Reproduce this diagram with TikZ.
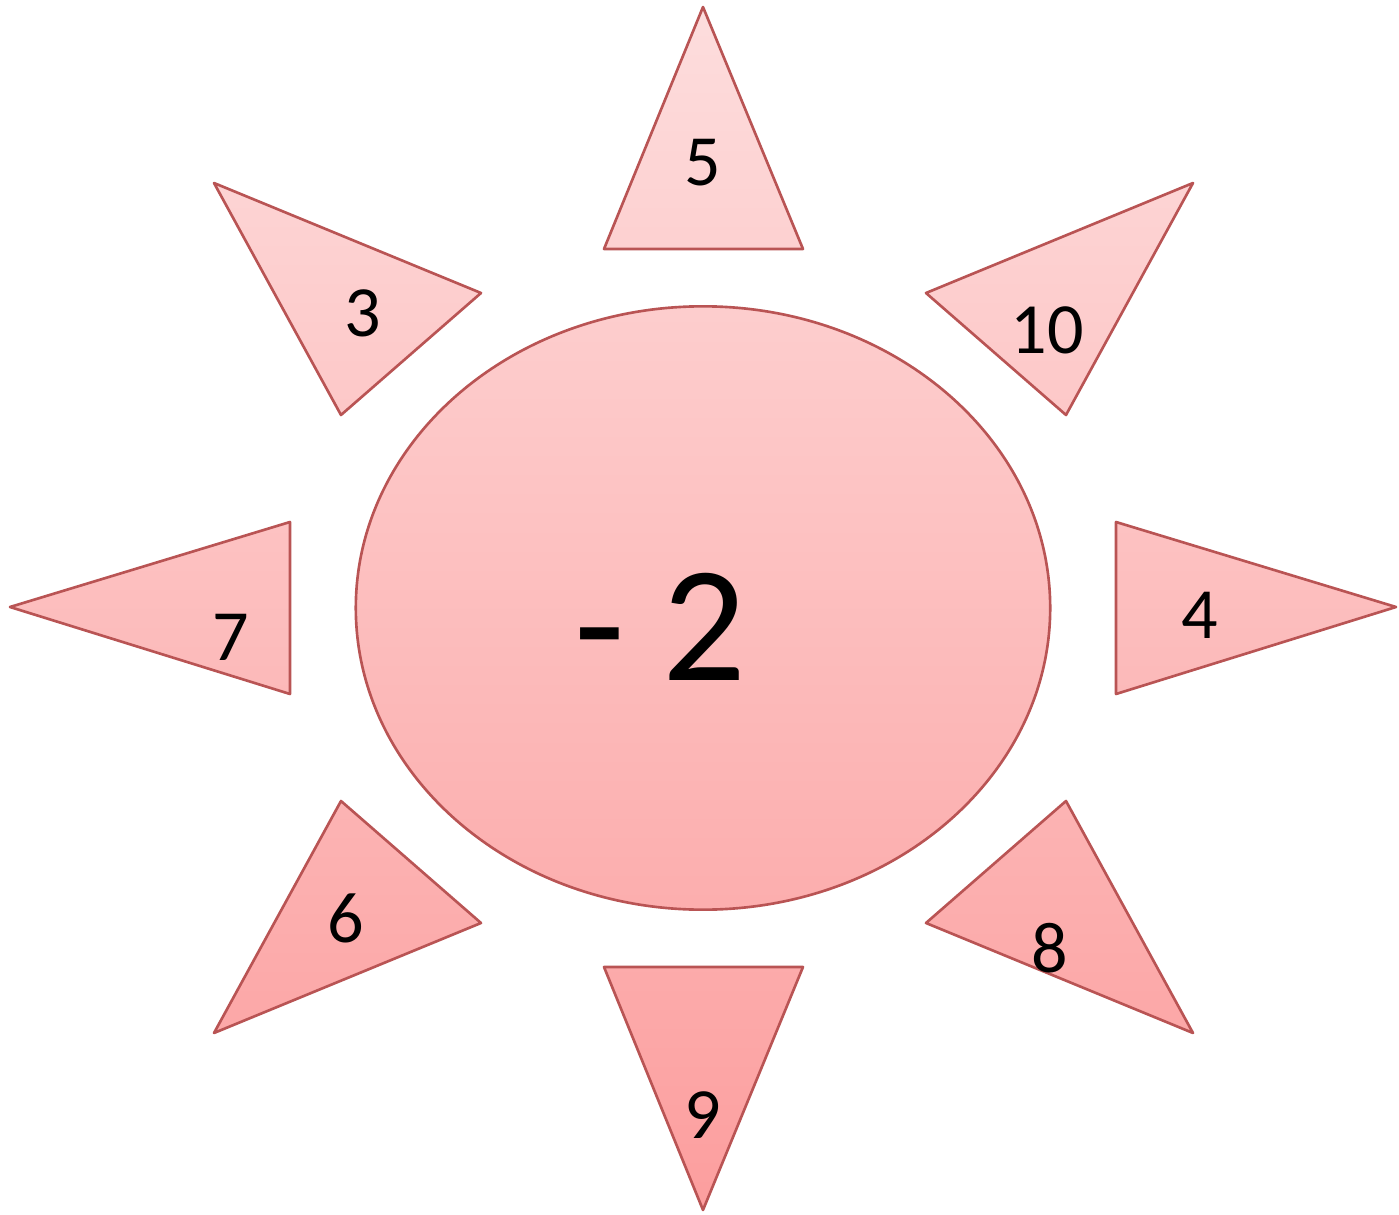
\documentclass[tikz,border=0pt]{standalone}
\usepackage{fontspec}
\setmainfont{Carlito}
\definecolor{topc}{HTML}{FDDDDD}
\definecolor{botc}{HTML}{FC9E9E}
\definecolor{edge}{HTML}{B95454}
\begin{document}
\begin{tikzpicture}[x=0.01cm,y=-0.01cm,
  lbl/.style={font=\fontsize{20.5}{24}\selectfont, inner sep=0pt, text=black},
  big/.style={font=\fontsize{47}{54}\selectfont, inner sep=0pt, text=black},
  edgeline/.style={draw=edge, line width=0.75pt, line join=round}]
\useasboundingbox (0,0) rectangle (1399,1215);
\def\sunshapes{
  (703,608) ellipse [x radius=3.47cm, y radius=3.015cm]
  (703,7) -- (803,249) -- (604,249) -- cycle
  (604,967) -- (803,967) -- (703,1210) -- cycle
  (10,607) -- (290,522) -- (290,694) -- cycle
  (1396,607) -- (1116,694) -- (1116,522) -- cycle
  (214,183) -- (481,293) -- (341,415) -- cycle
  (1193,183) -- (1066,415) -- (926,293) -- cycle
  (341,801) -- (481,923) -- (214,1033) -- cycle
  (1066,801) -- (1193,1033) -- (926,923) -- cycle
}
\shade[top color=topc, bottom color=botc] \sunshapes;
\path[edgeline] \sunshapes;
\node[big] (c) at (660,627) {- 2};
\node[lbl] (t5) at (703,163) {5};
\node[lbl] (t3) at (363,313) {3};
\node[lbl] (t10) at (1047,330) {10};
\node[lbl] (t7) at (231,637) {7};
\node[lbl] (t4) at (1200,615) {4};
\node[lbl] (t6) at (346,918) {6};
\node[lbl] (t8) at (1050,948) {8};
\node[lbl] (t9) at (703,1115) {9};
\end{tikzpicture}
\end{document}
